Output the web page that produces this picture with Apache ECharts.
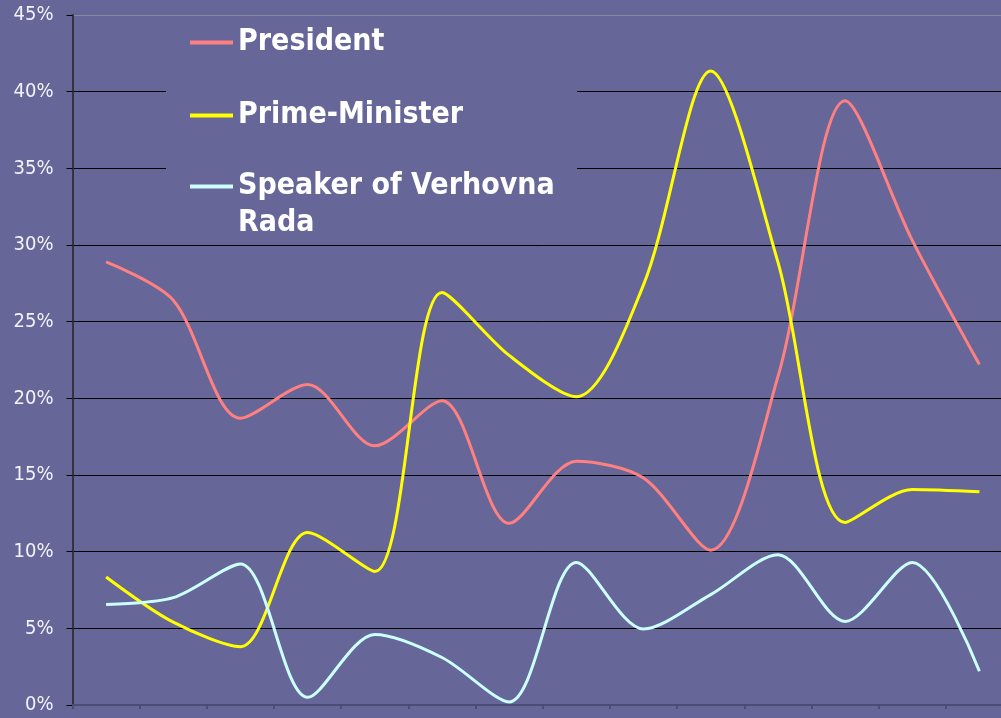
<!DOCTYPE html>
<html>
<head>
<meta charset="utf-8">
<script src="https://cdn.jsdelivr.net/npm/echarts@6/dist/echarts.min.js"></script>
<style>
  html, body { margin: 0; padding: 0; background: #666699; overflow: hidden; width: 1001px; height: 718px; }
  #chart { width: 1024px; height: 718px; }
</style>
</head>
<body>
<div id="chart"></div>
<script>
// ---- data ----
const categories = ['1','2','3','4','5','6','7','8','9','10','11','12','13','14'];
const seriesNames = ['President', 'Prime-Minister', 'Speaker of Verhovna Rada'];
const president = [28.9, 26.4, 18.7, 20.9, 16.9, 19.85, 11.85, 15.9, 14.8, 10.1, 21.4, 39.4, 30.3, 22.2];
const primeMinister = [8.35, 5.4, 3.8, 11.25, 8.7, 26.9, 22.8, 20.1, 27.4, 41.35, 28.9, 11.9, 14.05, 13.9];
const speaker = [6.55, 7.0, 9.2, 0.5, 4.6, 3.1, 0.2, 9.3, 4.95, 7.2, 9.8, 5.45, 9.3, 2.2];
const yTicks = [0, 5, 10, 15, 20, 25, 30, 35, 40, 45];

const colors = ['#ff8080', '#ffff00', '#ccffff'];
const FONT = '"DejaVu Sans Condensed", "DejaVu Sans", sans-serif';

const chart = echarts.init(document.getElementById('chart'), null, { renderer: 'canvas' });

function lineSeries(name, data, color) {
  return {
    name: name, type: 'line', data: data, smooth: 0.3,
    showSymbol: false, symbol: 'none',
    lineStyle: { color: color, width: 3 },
    itemStyle: { color: color },
    z: 3
  };
}

const legendText = { color: '#ffffff', fontFamily: FONT, fontWeight: 'bold', fontSize: 30, lineHeight: 37 };

chart.setOption({
  backgroundColor: '#666699',
  animation: false,
  grid: { left: 72.5, top: 15, width: 940.5, height: 690, containLabel: false },
  xAxis: {
    type: 'category', data: categories, boundaryGap: true,
    axisLine: { show: true, lineStyle: { color: '#4c4c74', width: 2 } },
    axisTick: { show: true, inside: false, length: 4, lineStyle: { color: '#4c4c74', width: 2 } },
    axisLabel: { show: false },
    splitLine: { show: false }
  },
  yAxis: {
    type: 'value', min: yTicks[0], max: yTicks[yTicks.length - 1], interval: 5,
    axisLine: { show: true, lineStyle: { color: '#333340', width: 2 } },
    axisTick: { show: true, length: 6, lineStyle: { color: '#000000', width: 1 } },
    axisLabel: { show: true, margin: 19, color: '#f2f2f8', fontFamily: FONT, fontSize: 20,
                 formatter: v => v + '%' },
    splitLine: { show: true, lineStyle: { width: 1,
      color: ['#000000','#000000','#000000','#000000','#000000','#000000','#000000','#000000','#000000','#8888a0'] } }
  },
  graphic: [{
    type: 'rect', z: 1, silent: true,
    shape: { x: 166, y: 17, width: 411, height: 224 },
    style: { fill: '#666699' }
  }],
  legend: [{
    orient: 'vertical', left: 190, top: 24, padding: 0,
    itemWidth: 43, itemHeight: 4, itemGap: 36, icon: 'rect',
    data: [seriesNames[0], seriesNames[1]],
    textStyle: legendText,
    selectedMode: false
  }, {
    orient: 'vertical', left: 190, top: 131, padding: 0,
    itemWidth: 43, itemHeight: 4, icon: 'rect',
    data: [seriesNames[2]],
    formatter: function (name) { return ' \nSpeaker of Verhovna\nRada'; },
    textStyle: legendText,
    selectedMode: false
  }],
  series: [
    lineSeries(seriesNames[0], president, colors[0]),
    lineSeries(seriesNames[1], primeMinister, colors[1]),
    lineSeries(seriesNames[2], speaker, colors[2])
  ]
});
</script>
</body>
</html>
